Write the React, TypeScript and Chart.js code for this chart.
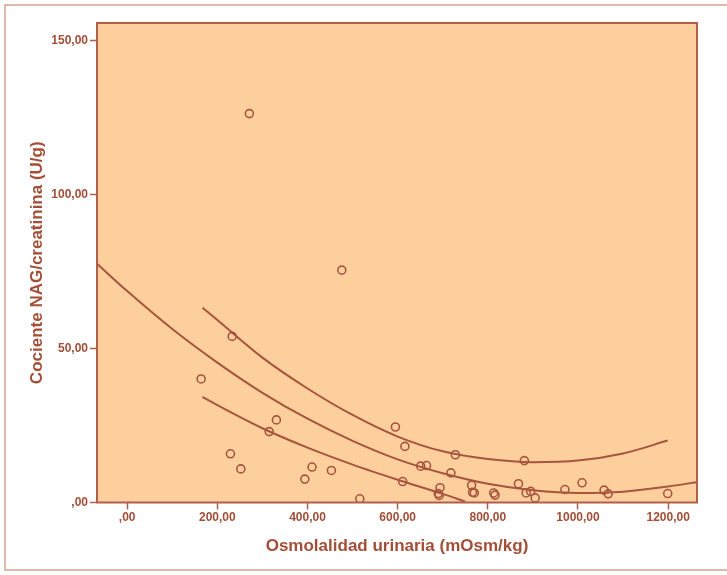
import React, { useEffect, useRef } from "react";
import { Chart, registerables } from "chart.js";

Chart.register(...registerables);

// Scatter observations (Osmolalidad urinaria, Cociente NAG/creatinina)
const osmolalidad = [
  271, 476, 164, 233, 229, 252, 315, 331, 394, 410, 453, 516, 595, 616, 611, 651, 664,
  694, 690, 692, 718, 728, 764, 766, 770, 813, 816, 868, 881, 885, 895, 905, 971, 1009,
  1058, 1067, 1199,
];
const nagCreatinina = [
  126.2, 75.4, 40.1, 53.9, 15.8, 10.9, 23.0, 26.8, 7.6, 11.5, 10.4, 1.2, 24.5, 18.2, 6.8,
  11.8, 12.0, 4.8, 2.9, 2.3, 9.6, 15.5, 5.6, 3.3, 3.1, 3.1, 2.4, 6.1, 13.6, 3.1, 3.6, 1.5,
  4.2, 6.4, 4.0, 2.8, 2.9,
];

// Fitted curve (quadratic fit)
const fitX = [-67, 0, 100, 200, 300, 400, 500, 600, 700, 800, 900, 1000, 1100, 1200, 1264];
const fitY = [77.5, 68.6, 56.3, 45.4, 35.6, 27.2, 20.0, 14.0, 9.5, 6.1, 4.0, 3.1, 3.5, 5.2, 6.6];

// Upper confidence band
const upperX = [167, 200, 300, 400, 500, 600, 700, 800, 900, 1000, 1100, 1199];
const upperY = [63.2, 59.2, 47.0, 37.0, 28.4, 21.4, 16.6, 14.1, 13.1, 13.6, 15.9, 20.1];

// Lower confidence band
const lowerX = [167, 200, 300, 400, 500, 600, 700, 750];
const lowerY = [34.3, 31.6, 24.1, 17.8, 12.3, 7.4, 2.8, 0.3];

// Axes
const xTickValues = [0, 200, 400, 600, 800, 1000, 1200];
const xTickLabels = [",00", "200,00", "400,00", "600,00", "800,00", "1000,00", "1200,00"];
const yTickValues = [0, 50, 100, 150];
const yTickLabels = [",00", "50,00", "100,00", "150,00"];
const xTitle = "Osmolalidad urinaria (mOsm/kg)";
const yTitle = "Cociente NAG/creatinina (U/g)";

const TEXT = "#A34E36";
const LINE = "#A8553F";
const BORDER = "#B0604A";
const PEACH = "#FCCF9D";
const FONT = "'Liberation Sans', Arial, sans-serif";

const toXY = (xs: number[], ys: number[]) => xs.map((x, i) => ({ x, y: ys[i] }));

export default function App() {
  const ref = useRef<HTMLCanvasElement | null>(null);

  useEffect(() => {
    document.body.style.margin = "0";
    const canvas = ref.current;
    if (!canvas) return;

    const framePlugin = {
      id: "framePlugin",
      beforeDraw(chart: any) {
        const { ctx, chartArea } = chart;
        ctx.save();
        ctx.fillStyle = "#ffffff";
        ctx.fillRect(0, 0, chart.width, chart.height);
        // outer frame
        ctx.strokeStyle = "#D6A291";
        ctx.lineWidth = 1.5;
        ctx.beginPath();
        ctx.moveTo(740, 5);
        ctx.lineTo(5, 5);
        ctx.lineTo(5, 570);
        ctx.lineTo(740, 570);
        ctx.stroke();
        // plot background
        ctx.fillStyle = PEACH;
        ctx.fillRect(chartArea.left, chartArea.top, chartArea.right - chartArea.left, chartArea.bottom - chartArea.top);
        ctx.restore();
      },
      afterDraw(chart: any) {
        const { ctx, chartArea } = chart;
        ctx.save();
        ctx.strokeStyle = BORDER;
        ctx.lineWidth = 2;
        ctx.strokeRect(chartArea.left, chartArea.top, chartArea.right - chartArea.left, chartArea.bottom - chartArea.top);
        ctx.restore();
      },
    };

    const lineDs = (data: any[]) => ({
      type: "line" as const,
      data,
      showLine: true,
      borderColor: LINE,
      borderWidth: 2,
      pointRadius: 0,
      fill: false,
      cubicInterpolationMode: "monotone" as const,
    });

    const chart = new Chart(canvas, {
      type: "scatter",
      data: {
        datasets: [
          lineDs(toXY(fitX, fitY)),
          lineDs(toXY(upperX, upperY)),
          lineDs(toXY(lowerX, lowerY)),
          {
            type: "scatter",
            data: toXY(osmolalidad, nagCreatinina),
            pointRadius: 4,
            pointBorderWidth: 1.6,
            pointBackgroundColor: "rgba(0,0,0,0)",
            pointBorderColor: LINE,
          } as any,
        ],
      },
      options: {
        responsive: true,
        maintainAspectRatio: false,
        animation: false,
        events: [],
        layout: { padding: { left: 0, top: 23, right: 30, bottom: 0 } },
        plugins: { legend: { display: false }, tooltip: { enabled: false } },
        scales: {
          x: {
            type: "linear",
            min: -67,
            max: 1264,
            afterBuildTicks: (scale: any) => {
              scale.ticks = xTickValues.map((v) => ({ value: v }));
            },
            afterFit: (scale: any) => {
              scale.height = 72.5;
            },
            border: { display: false },
            grid: {
              drawOnChartArea: false,
              drawTicks: true,
              tickLength: 7,
              tickColor: BORDER,
              tickWidth: 1.5,
            },
            ticks: {
              color: TEXT,
              font: { family: FONT, size: 12, weight: "bold" },
              padding: 1,
              maxRotation: 0,
              callback: (v: any) => xTickLabels[xTickValues.indexOf(Number(v))] ?? "",
            },
            title: {
              display: true,
              text: xTitle,
              color: TEXT,
              font: { family: FONT, size: 17, weight: "bold" },
              padding: { top: 0, bottom: 18 },
            },
          },
          y: {
            type: "linear",
            min: 0,
            max: 155.6,
            afterBuildTicks: (scale: any) => {
              scale.ticks = yTickValues.map((v) => ({ value: v }));
            },
            afterFit: (scale: any) => {
              scale.width = 97;
            },
            border: { display: false },
            grid: {
              drawOnChartArea: false,
              drawTicks: true,
              tickLength: 7,
              tickColor: BORDER,
              tickWidth: 1.5,
            },
            ticks: {
              color: TEXT,
              font: { family: FONT, size: 12, weight: "bold" },
              padding: 2,
              callback: (v: any) => yTickLabels[yTickValues.indexOf(Number(v))] ?? "",
            },
            title: {
              display: true,
              text: yTitle,
              color: TEXT,
              font: { family: FONT, size: 17, weight: "bold" },
              padding: { top: 27, bottom: 0 },
            },
          },
        },
      },
      plugins: [framePlugin],
    } as any);

    return () => chart.destroy();
  }, []);

  return (
    <div style={{ position: "absolute", left: 0, top: 0, width: 727, height: 575 }}>
      <canvas ref={ref} />
    </div>
  );
}
